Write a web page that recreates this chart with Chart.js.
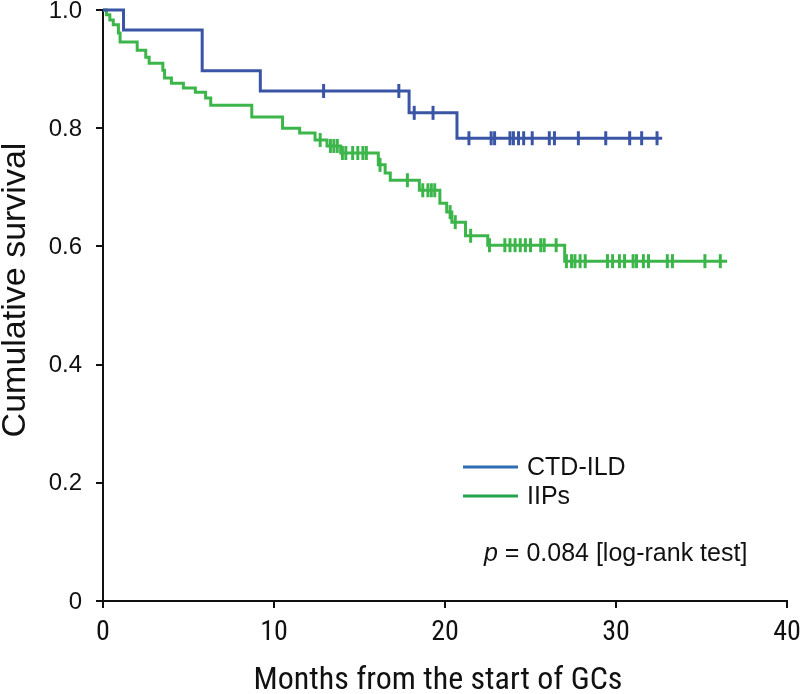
<!DOCTYPE html>
<html>
<head>
<meta charset="utf-8">
<script src="https://cdn.jsdelivr.net/npm/chart.js@4.4.1/dist/chart.umd.min.js"></script>
<style>
html,body{margin:0;padding:0;background:#fff;}
#wrap{width:800px;height:694px;}
</style>
</head>
<body>
<div id="wrap"><canvas id="c" width="800" height="694"></canvas></div>
<script>
// ---- data ----
const seriesNames = ['CTD-ILD', 'IIPs'];
const xTicks = [0, 10, 20, 30, 40];
const yTickLabels = ['0', '0.2', '0.4', '0.6', '0.8', '1.0'];
const xTitle = 'Months from the start of GCs';
const yTitle = 'Cumulative survival';

const ctdTimes = [0, 1.2, 5.8, 9.2, 17.9, 20.7, 32.7];
const ctdSurv  = [1.0, 0.966, 0.897, 0.863, 0.826, 0.783, 0.783];
const ctdCensor = [12.9, 17.3, 18.2, 19.3, 21.4, 22.7, 22.9, 23.8, 24.0, 24.3, 24.6, 25.1, 26.1, 26.4, 27.8, 29.4, 30.8, 31.5, 32.4];

const iipTimes = [0, 0.2, 0.4, 0.6, 0.9, 1.0, 2.0, 2.5, 2.7, 3.5, 3.6, 4.0, 4.7, 5.4, 6.0, 6.3, 8.7, 10.5, 11.5, 12.4, 13.1, 13.9, 16.1, 16.5, 16.8, 18.5, 19.7, 20.1, 20.4, 21.2, 22.5, 27.0, 36.5];
const iipSurv  = [1.0, 0.992, 0.983, 0.975, 0.961, 0.946, 0.932, 0.920, 0.910, 0.898, 0.885, 0.876, 0.868, 0.861, 0.851, 0.839, 0.819, 0.800, 0.792, 0.780, 0.770, 0.758, 0.738, 0.724, 0.712, 0.695, 0.673, 0.658, 0.641, 0.618, 0.602, 0.575, 0.575];
const iipCensor = [12.7, 13.3, 13.5, 13.7, 14.0, 14.2, 14.6, 14.9, 15.2, 15.4, 16.2, 17.8, 18.7, 19.0, 19.2, 19.4, 20.3, 20.6, 21.5, 22.6, 23.5, 23.8, 24.1, 24.4, 24.7, 25.0, 25.6, 25.8, 26.5, 27.1, 27.4, 27.6, 27.9, 28.2, 29.5, 29.8, 30.2, 30.5, 31.0, 31.2, 31.6, 31.9, 33.0, 33.3, 35.2, 36.1];

const pValueText = ' = 0.084 [log-rank test]';

// ---- helpers ----
function stepAt(times, surv, t) {
  let v = surv[0];
  for (let i = 0; i < times.length; i++) { if (times[i] <= t) v = surv[i]; }
  return v;
}
const toPts = (ts, ss) => ts.map((t, i) => ({x: t, y: ss[i]}));
const censorPts = (cs, ts, ss) => cs.map(t => ({x: t, y: stepAt(ts, ss, t)}));

const BLUE = '#3a55a5', GREEN = '#3cb54a';
const LEG_BLUE = '#2f6cb3', LEG_GREEN = '#22a54c';
const NARROW = "'Liberation Sans Narrow', 'Roboto Condensed', 'Liberation Sans', Arial, sans-serif";
const REG = "'Liberation Sans', Arial, Helvetica, sans-serif";

const overlay = {
  id: 'overlay',
  afterDraw(chart) {
    const ctx = chart.ctx;
    ctx.save();
    ctx.fillStyle = '#111';
    ctx.textBaseline = 'middle';
    // axis titles
    ctx.textAlign = 'center';
    ctx.font = '32px ' + NARROW;
    ctx.fillText(xTitle, 438, 681);
    ctx.save();
    ctx.translate(16, 290);
    ctx.rotate(-Math.PI / 2);
    ctx.font = '34px ' + REG;
    ctx.fillText(yTitle, 0, 0);
    ctx.restore();
    // legend
    ctx.textAlign = 'left';
    const legend = [[seriesNames[0], LEG_BLUE, 467], [seriesNames[1], LEG_GREEN, 496]];
    ctx.font = '25px ' + REG;
    legend.forEach(([name, col, y]) => {
      ctx.strokeStyle = col; ctx.lineWidth = 3;
      ctx.beginPath(); ctx.moveTo(463, y); ctx.lineTo(518, y); ctx.stroke();
      ctx.fillText(name, 527, y + 1);
    });
    ctx.font = 'italic 25px ' + REG;
    ctx.fillText('p', 484, 554);
    const w = ctx.measureText('p').width;
    ctx.font = '25px ' + REG;
    ctx.fillText(pValueText, 484 + w, 554);
    ctx.restore();
  }
};

new Chart(document.getElementById('c'), {
  type: 'line',
  data: {
    datasets: [
      {label: seriesNames[0], data: toPts(ctdTimes, ctdSurv), stepped: 'before', borderColor: BLUE, borderWidth: 3, pointRadius: 0, fill: false, clip: 6},
      {label: seriesNames[1], data: toPts(iipTimes, iipSurv), stepped: 'before', borderColor: GREEN, borderWidth: 3, pointRadius: 0, fill: false, clip: 6},
      {label: 'c1', data: censorPts(ctdCensor, ctdTimes, ctdSurv), showLine: false, pointStyle: 'line', rotation: 90, pointRadius: 7, borderColor: BLUE, borderWidth: 3, clip: 10},
      {label: 'c2', data: censorPts(iipCensor, iipTimes, iipSurv), showLine: false, pointStyle: 'line', rotation: 90, pointRadius: 7, borderColor: GREEN, borderWidth: 3, clip: 10}
    ]
  },
  options: {
    responsive: false,
    animation: false,
    layout: {padding: {top: 10, right: 13, left: 0, bottom: 0}},
    plugins: {legend: {display: false}, tooltip: {enabled: false}},
    scales: {
      x: {
        type: 'linear', min: 0, max: 40,
        afterBuildTicks: s => { s.ticks = xTicks.map(v => ({value: v})); },
        ticks: {font: {family: NARROW, size: 28}, color: '#111', padding: 8, maxRotation: 0},
        grid: {drawOnChartArea: false, drawTicks: true, tickLength: 7, color: '#111', lineWidth: 2},
        border: {display: true, color: '#111', width: 2},
        title: {display: false, text: xTitle},
        afterFit: s => { s.height = 93; s.paddingLeft = 0; s.paddingRight = 0; }
      },
      y: {
        type: 'linear', min: 0, max: 1,
        afterBuildTicks: s => { s.ticks = yTickLabels.map((l, i) => ({value: i * 0.2})); },
        ticks: {font: {family: REG, size: 24}, color: '#111', padding: 14, labelOffset: 1, callback: (v, i) => yTickLabels[i]},
        grid: {drawOnChartArea: false, drawTicks: true, tickLength: 7, color: '#111', lineWidth: 2},
        border: {display: true, color: '#111', width: 2},
        title: {display: false, text: yTitle},
        afterFit: s => { s.width = 103; s.paddingTop = 0; s.paddingBottom = 0; }
      }
    }
  },
  plugins: [overlay]
});
</script>
</body>
</html>
